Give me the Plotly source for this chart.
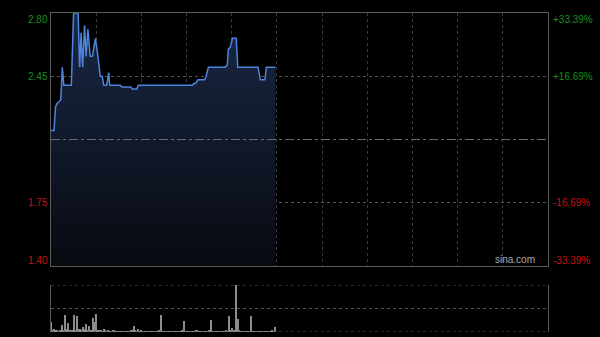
import plotly.graph_objects as go

# ---- data ----
prev_close = 2.10
price_ticks = [1.40, 1.75, 2.45, 2.80]
price_labels = ["1.40", "1.75", "2.45", "2.80"]
pct_labels = ["-33.39%", "-16.69%", "+16.69%", "+33.39%"]

# minutes after 09:30 (HK session, 330 trading minutes)
minute = [0, 2, 3, 4, 5.5, 6.5, 7.5, 8.5, 13.5, 15, 18, 19, 20, 21, 22.3, 23.3,
          24.5, 26, 27.5, 29.5, 31, 32.7, 34, 35, 37, 38.3, 39, 46, 47, 53, 54,
          57, 58, 94, 94.6, 96, 97.6, 102, 103, 104.5, 115.5, 117, 117.8, 119,
          120.5, 123, 124, 137.5, 139, 142, 143, 149]
price = [2.15, 2.15, 2.28, 2.30, 2.31, 2.32, 2.50, 2.40, 2.40, 2.80, 2.80, 2.50,
         2.69, 2.50, 2.73, 2.56, 2.71, 2.56, 2.56, 2.66, 2.57, 2.45, 2.45, 2.40,
         2.40, 2.47, 2.40, 2.40, 2.39, 2.39, 2.38, 2.38, 2.40, 2.40, 2.41, 2.41,
         2.43, 2.43, 2.45, 2.50, 2.50, 2.51, 2.60, 2.61, 2.66, 2.66, 2.50, 2.50,
         2.43, 2.43, 2.50, 2.50]

# relative volume per minute (0..149)
volume = [22, 5, 6, 4, 3, 2, 3, 15, 4, 36,
          6, 20, 4, 3, 5, 36, 4, 33, 6, 7,
          5, 11, 6, 16, 4, 13, 5, 3, 29, 22,
          38, 5, 4, 3, 2, 6, 3, 2, 4, 2,
          2, 3, 5, 2, 2, 1, 2, 2, 1, 2,
          1, 2, 2, 3, 4, 13, 3, 2, 6, 2,
          3, 2, 2, 1, 2, 2, 1, 2, 2, 1,
          2, 2, 3, 36, 2, 2, 1, 2, 2, 1,
          2, 1, 2, 2, 1, 2, 2, 3, 23, 2,
          1, 2, 2, 1, 2, 2, 3, 4, 2, 1,
          2, 2, 1, 2, 2, 3, 26, 2, 1, 2,
          2, 1, 2, 2, 1, 2, 3, 2, 34, 4,
          9, 3, 4, 100, 28, 3, 2, 2, 1, 2,
          2, 1, 2, 34, 2, 1, 2, 2, 1, 2,
          2, 1, 2, 2, 1, 2, 2, 4, 2, 10]
vol_minute = list(range(len(volume)))

GREEN = "#14921a"
RED = "#cc1111"
GRID = "#3c3c3c"
HGRID = "#555555"
BORDER = "#5a5a5a"

fig = go.Figure()

fig.add_trace(go.Scatter(
    x=minute, y=price, mode="lines",
    line=dict(color="#4d84dc", width=1.5),
    fill="tozeroy",
    fillgradient=dict(type="vertical",
                      colorscale=[[0, "rgb(8,10,16)"], [1, "rgb(25,40,70)"]],
                      start=1.40, stop=2.80),
    xaxis="x", yaxis="y", hoverinfo="skip", showlegend=False))

fig.add_trace(go.Bar(
    x=vol_minute, y=volume, width=0.65,
    marker=dict(color="#8c8c8c", line=dict(width=0)),
    xaxis="x2", yaxis="y2", hoverinfo="skip", showlegend=False))

vmax = max(volume)

fig.update_layout(
    width=600, height=337,
    margin=dict(l=51, r=52, t=13, b=5),
    paper_bgcolor="#000000", plot_bgcolor="#000000",
    font=dict(family="Liberation Sans, Arial, sans-serif", size=10),
    bargap=0,
    xaxis=dict(domain=[0, 1], range=[0, 330], tick0=0, dtick=30,
               showgrid=True, griddash="dot", gridcolor=GRID, gridwidth=1,
               showticklabels=False, ticks="", zeroline=False,
               showline=True, linecolor=BORDER, linewidth=1, mirror=True),
    yaxis=dict(domain=[0.2069, 1], range=[1.40, 2.80],
               tickvals=price_ticks, showticklabels=False, ticks="",
               showgrid=True, griddash="dot", gridcolor=HGRID,
               zeroline=False,
               showline=True, linecolor=BORDER, linewidth=1, mirror=True),
    xaxis2=dict(domain=[0, 1], range=[0, 330], anchor="y2",
                showgrid=False, showticklabels=False, ticks="",
                zeroline=False, showline=False),
    yaxis2=dict(domain=[0, 0.1473], range=[0, vmax], anchor="x2",
                tickvals=[vmax / 2], showticklabels=False, ticks="",
                showgrid=True, griddash="dot", gridcolor=HGRID,
                zeroline=False,
                showline=True, linecolor=BORDER, linewidth=1, mirror=True),
)

# previous close reference line
fig.add_shape(type="line", xref="x domain", yref="y", x0=0, x1=1,
              y0=prev_close, y1=prev_close,
              line=dict(color="#6a6a6a", width=1, dash="dashdot"))

# dotted top and bottom edges of the volume panel
for yv in (0, vmax):
    fig.add_shape(type="line", xref="x2 domain", yref="y2", x0=0, x1=1,
                  y0=yv, y1=yv, line=dict(color=HGRID, width=1, dash="dot"))

for val, lab, pct in zip(price_ticks, price_labels, pct_labels):
    col = GREEN if val > prev_close else RED
    shift = -6 if val == max(price_ticks) else (6 if val == min(price_ticks) else 0)
    fig.add_annotation(xref="paper", yref="y", x=0, y=val, text=lab,
                       showarrow=False, xanchor="right", yanchor="middle",
                       xshift=-1, yshift=shift, font=dict(color=col, size=10))
    fig.add_annotation(xref="paper", yref="y", x=1, y=val, text=pct,
                       showarrow=False, xanchor="left", yanchor="middle",
                       xshift=3, yshift=shift, font=dict(color=col, size=10))

fig.add_annotation(xref="paper", yref="y", x=(537 - 51) / 497, y=1.40,
                   text="sina.com", showarrow=False, xanchor="right",
                   yanchor="bottom", yshift=-1,
                   font=dict(color="#a8a8a8", size=10))

fig.write_html("out.html")
